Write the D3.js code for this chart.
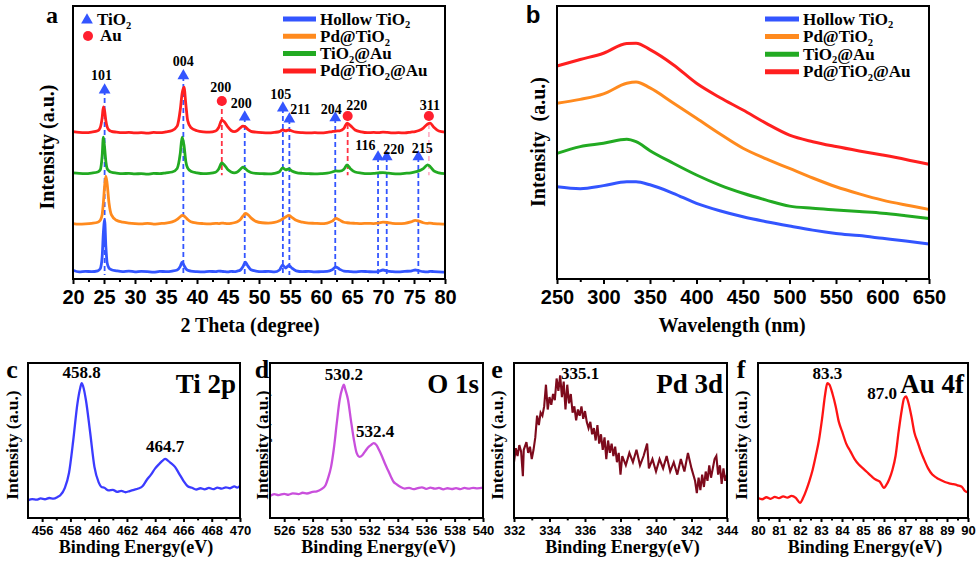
<!DOCTYPE html>
<html>
<head>
<meta charset="utf-8">
<script src="https://cdn.jsdelivr.net/npm/d3@7"></script>
<style>
body { margin: 0; background: #fff; }
svg text { font-family: "Liberation Serif", "Times New Roman", serif; font-weight: bold; fill: #000; }
.tick text { font-family: "Liberation Sans", Arial, sans-serif; font-weight: bold; }
</style>
</head>
<body>
<svg id="fig" width="980" height="564"></svg>
<script>
// ---- data ----
var sampleNames = ['Hollow TiO_2', 'Pd@TiO_2', 'TiO_2@Au', 'Pd@TiO_2@Au'];

// XRD (panel a)
var xrdTheta = [20,21,22,23,24,24.4,24.7,24.9,25.1,25.3,25.5,25.8,26.2,27,28,29,30,31,32,33,34,35,36,36.8,37.3,37.6,37.9,38.2,38.5,39,40,41,42,43,43.5,44,44.4,45,45.5,46,46.5,47,47.4,47.8,48.2,48.7,49.5,50.5,51.5,52.5,53.3,53.8,54.3,54.8,55.3,56,57,58,59,60,61,61.8,62.4,63,63.7,64.2,64.7,65.5,66.5,67.5,68.5,69.3,70,70.7,71.5,72.5,73.5,74.5,75.2,75.8,76.5,77.2,77.6,78.2,79,80];
var xrdHollow = [3.2,2.6,2.8,2.7,3.0,3.8,8,17,21.6,12,6,4,3.4,3.0,2.7,2.9,2.6,2.8,2.7,2.5,2.8,2.7,2.9,3.3,4.6,6.2,5.0,3.8,3.2,2.9,2.7,2.6,2.8,2.7,2.9,2.8,2.7,2.6,2.8,2.7,2.9,3.3,4.5,6.2,4.8,3.4,2.9,2.7,2.8,2.6,3.3,5.1,4.0,5.0,4.0,3.0,2.7,2.8,2.6,2.7,2.8,3.4,4.4,3.6,2.9,2.8,2.7,2.6,2.8,2.7,2.6,2.8,3.3,2.9,2.7,2.6,2.8,2.9,3.3,3.0,2.7,2.6,2.8,2.7,2.6,2.5];
var xrdPd = [20.3,20.1,20.2,20.4,20.8,21.5,23.5,28,34,37.7,35,28,23.5,21.5,20.8,20.5,20.3,20.2,20.4,20.1,20.3,20.5,20.9,21.8,22.8,23.3,23.1,22.5,21.8,21.0,20.5,20.3,20.2,20.4,20.3,20.5,20.4,20.3,20.4,20.6,21.0,21.8,23.0,24.0,23.6,22.4,21.1,20.6,20.5,20.7,21.3,22.0,22.7,23.3,22.6,21.5,20.8,20.5,20.4,20.3,20.5,21.2,22.2,21.6,20.8,20.6,20.5,20.4,20.3,20.4,20.3,20.5,20.8,20.7,20.4,20.3,20.4,20.9,21.5,21.2,20.6,20.4,20.5,20.3,20.2,20.1];
var xrdAu = [38.9,38.7,38.6,38.8,39.2,40,45,52,48,43,40.5,39.6,39.1,38.8,38.6,38.7,38.5,38.6,38.4,38.7,38.6,38.9,39.2,40.5,46,52,49,43,40.6,39.5,38.9,38.6,38.7,39.1,40.3,42.5,41.8,40.0,39.2,38.9,39.2,40.2,41,40.4,39.6,39.0,38.7,38.6,38.5,38.7,39.3,40.7,40,40.3,39.6,39.0,38.7,38.6,38.5,38.6,38.8,39.2,39.6,39.5,40.2,41.8,40.5,39.2,38.8,38.6,38.7,38.9,39.0,38.8,38.6,38.5,38.7,38.9,39.2,39.6,40.4,41.8,41.2,39.6,38.9,38.6];
var xrdPdAu = [54.0,53.7,53.6,53.8,54.3,55.5,59,63,61.5,58,55.8,54.6,54.1,53.8,53.6,53.7,53.5,53.6,53.4,53.7,53.6,53.9,54.4,56,62,68,70.3,64,58,55.5,54.3,53.9,53.8,54.2,55.5,58.2,57.6,55.6,54.4,54.0,54.4,55.4,56,55.7,54.8,54.1,53.8,53.6,53.5,53.7,54.0,54.6,54.3,54.6,54.2,53.8,53.6,53.5,53.6,53.5,53.7,54.0,54.2,54.3,55.2,57.1,56.3,54.6,53.9,53.6,53.7,53.6,53.8,53.7,53.5,53.6,53.5,53.8,54.0,54.4,55.3,56.8,57.1,55.6,54.2,53.8];
var xrdTicks = [20,25,30,35,40,45,50,55,60,65,70,75,80];

var peakPhase = ['TiO2','TiO2','Au','TiO2','TiO2','TiO2','TiO2','Au','Au','TiO2','TiO2','TiO2'];
var peakTheta = [25.1, 37.8, 44.0, 47.7, 53.85, 54.9, 62.3, 64.3, 77.4, 69.2, 70.6, 75.7];
var peakLevel = [69.2, 74.4, 65.2, 59.3, 62.6, 58.6, 59.0, 59.7, 59.7, 44.7, 44.7, 44.7];
var peakLabel = ['101','004','200','200','105','211','204','220','311','116','220','215'];

// UV-vis (panel b)
var uvWave = [250,275,300,325,335,350,375,400,425,450,475,500,525,550,575,600,625,650];
var uvHollow = [33.8,33.1,34.2,35.6,35.6,34.5,31.4,27.7,25,22.8,21,19.4,17.9,16.7,15.9,14.9,13.9,12.8];
var uvPd = [64.4,65.8,67.8,71.7,72.2,70,64.5,58.9,53.2,47.9,44,40.5,37,33.8,31.2,28.9,27.1,25.5];
var uvAu = [46,48.5,49.7,51.2,50.3,47,42.4,38.1,34.4,31.4,28.9,26.7,25.9,25.3,24.7,24.1,23.2,22.2];
var uvPdAu = [78,80.4,82.7,86.3,86.4,84,78.5,71.7,66.5,61.9,57,52.7,50.3,48.5,46.9,45.4,43.8,42.0];
var uvTicks = [250,300,350,400,450,500,550,600,650];

// XPS (panels c-f)
var tiEnergy = [455.0,455.3,455.6,455.9,456.2,456.5,456.8,457.1,457.3,457.6,457.9,458.2,458.5,458.7,458.8,458.9,459.1,459.4,459.7,460.0,460.2,460.4,460.7,461.0,461.3,461.6,461.9,462.2,462.5,462.8,463.1,463.4,463.7,464.0,464.3,464.5,464.7,464.9,465.1,465.4,465.7,466.0,466.3,466.6,466.9,467.2,467.5,467.8,468.1,468.4,468.7,469.0,469.3,469.6,469.8,470.0];
var tiCounts = [11.4,12.2,11.8,12.6,12.1,12.9,12.5,13.6,14.8,19.3,29,50,74,84,87,85,76,55,33,23,20,19.5,17.8,18.2,16.9,17.5,16.6,17.4,18.2,19.0,20.5,24.5,28,32,35,36.8,38.2,37,35.5,33,28.5,24,20.5,19.5,18.4,19.2,18.5,19.4,18.6,19.6,19.0,19.8,19.2,20.4,19.6,20.8];
var oEnergy = [525.0,525.3,525.6,526.0,526.3,526.6,527.0,527.3,527.6,528.0,528.3,528.6,528.9,529.1,529.3,529.5,529.7,529.9,530.1,530.2,530.3,530.5,530.7,530.9,531.1,531.3,531.5,531.7,531.9,532.1,532.3,532.5,532.7,532.9,533.1,533.3,533.5,533.7,533.9,534.2,534.5,534.8,535.1,535.4,535.7,536.0,536.3,536.6,536.9,537.2,537.5,537.8,538.1,538.4,538.7,539.0,539.3,539.6,540.0];
var oCounts = [14.2,15.4,14.8,15.6,15.0,15.9,15.4,16.3,15.8,16.8,17.2,18.5,21,26,33,45,61,76,84,86,83,76,63,51,42,39.5,40.5,43,45.5,47,48.3,47,43.5,39.5,35,31,27,23.4,21.8,20,19,19.4,18.6,19.3,19.8,18.8,19.6,18.9,19.4,18.5,19.2,18.7,19.3,18.6,19.4,18.9,19.5,19.1,19.6];
var pdEnergy = [332.0,332.1,332.2,332.3,332.4,332.5,332.55,332.7,332.8,332.9,333.0,333.1,333.2,333.3,333.4,333.5,333.6,333.7,333.8,333.9,334.0,334.1,334.2,334.3,334.4,334.5,334.6,334.7,334.8,334.9,335.0,335.1,335.2,335.3,335.4,335.5,335.6,335.7,335.8,335.9,336.0,336.1,336.2,336.3,336.4,336.5,336.6,336.7,336.8,336.9,337.0,337.1,337.2,337.3,337.4,337.5,337.6,337.7,337.8,337.9,338.0,338.1,338.3,338.5,338.7,338.9,339.1,339.3,339.5,339.6,339.8,340.0,340.2,340.4,340.6,340.8,341.0,341.2,341.4,341.6,341.8,342.0,342.2,342.3,342.4,342.5,342.6,342.7,342.8,342.9,343.0,343.1,343.3,343.4,343.5,343.6,343.7,343.8,343.9,344.0];
var pdCounts = [36,45,40,47,43,27,44,49,42,46,38,44,52,66,60,68,66,72,86,70,78,73,80,76,90,82,92,78,88,70,86,74,80,68,72,63,70,66,72,64,69,62,58,62,54,58,50,60,48,54,44,52,38,50,42,48,40,46,36,42,28,40,34,42,36,44,34,40,48,32,38,30,38,32,40,30,36,28,38,30,42,32,24,16,26,18,28,20,30,24,34,26,38,40,28,34,22,32,24,28];
var auEnergy = [80.0,80.2,80.4,80.6,80.8,81.0,81.2,81.4,81.6,81.8,82.0,82.15,82.3,82.45,82.6,82.75,82.9,83.05,83.2,83.3,83.4,83.55,83.7,83.85,84.0,84.2,84.4,84.6,84.8,85.0,85.2,85.4,85.6,85.8,86.0,86.1,86.25,86.4,86.55,86.7,86.85,86.95,87.05,87.15,87.3,87.45,87.6,87.75,87.9,88.1,88.3,88.5,88.7,88.9,89.1,89.3,89.5,89.7,89.85,90.0];
var auCounts = [12.9,12.1,13.4,12.4,13.6,12.8,14.0,13.1,14.3,13.0,9.8,13,18,24,31,40,50,64,80,87,86,80,72,62,56,48,43,38,34.5,32,29.5,27,24.8,23.5,19.4,21,25,31,40,56,70,77,78.5,75,66,55,49,43,38,32,28,26,24.5,23.2,22.4,21.8,21.1,20.2,17.5,16.5];

var xpsTitles = ['Ti 2p', 'O 1s', 'Pd 3d', 'Au 4f'];
var xpsPeakText = [['458.8', '464.7'], ['530.2', '532.4'], ['335.1'], ['83.3', '87.0']];
var xpsTicks = [[456,458,460,462,464,466,468,470], [526,528,530,532,534,536,538,540], [332,334,336,338,340,342,344], [80,81,82,83,84,85,86,87,88,89,90]];

// ---- drawing ----
var svg = d3.select('#fig');
var colors = ['#3355ff', '#ff8a1e', '#22aa22', '#ff1f1f'];

function rich(sel, str, fs) {
	var parts = str.split(/_(\d)/);
	var down = false;
	parts.forEach(function(p, i) {
		if (i % 2 === 1) {
			sel.append('tspan').attr('font-size', fs * 0.62).attr('dy', fs * 0.22).text(p);
			down = true;
		} else if (p) {
			var t = sel.append('tspan').text(p);
			if (down) { t.attr('dy', -fs * 0.22); down = false; }
		}
	});
}

function frame(l, r, t, b) {
	svg.append('rect').attr('x', l).attr('y', t).attr('width', r - l).attr('height', b - t)
		.attr('fill', 'none').attr('stroke', '#000').attr('stroke-width', 2);
}

function bottomAxis(x, y0, majors, minors, fs, size, pad) {
	var g = svg.append('g').attr('transform', 'translate(0,' + y0 + ')');
	g.call(d3.axisBottom(x).tickValues(minors).tickSize(size * 0.6).tickSizeOuter(0).tickFormat(''));
	g.select('.domain').remove();
	var g2 = svg.append('g').attr('transform', 'translate(0,' + y0 + ')').attr('font-size', fs);
	g2.call(d3.axisBottom(x).tickValues(majors).tickSize(size).tickSizeOuter(0).tickPadding(pad));
	g2.select('.domain').remove();
	svg.selectAll('.tick line').attr('stroke-width', 2);
	g2.selectAll('.tick text').attr('font-size', fs);
}

function yTitle(x, y, str, fs) {
	svg.append('text').attr('transform', 'translate(' + x + ',' + y + ') rotate(-90)')
		.attr('text-anchor', 'middle').attr('dominant-baseline', 'central')
		.attr('font-size', fs).text(str);
}

function legend(x0, y0, step, lenSw) {
	sampleNames.forEach(function(n, i) {
		var yy = y0 + i * step;
		svg.append('line').attr('x1', x0).attr('x2', x0 + lenSw).attr('y1', yy).attr('y2', yy)
			.attr('stroke', colors[i]).attr('stroke-width', 5);
		var t = svg.append('text').attr('x', x0 + lenSw + 4).attr('y', yy + 5.5).attr('font-size', 17);
		rich(t, n, 17);
	});
}

// panel a
var xA = d3.scaleLinear().domain([20, 80]).range([73, 445]);
var yA = d3.scaleLinear().domain([0, 100]).range([279, 6]);
var lineA = d3.line().x(function(d) { return xA(d[0]); }).y(function(d) { return yA(d[1]); }).curve(d3.curveMonotoneX);

var labelNudge = [[-3,-9],[0,-8.5],[-1,-8],[-3.5,-8.3],[-2,-8],[11,-3.7],[-4,-2.7],[9,-5],[1,-5],[-12.7,-6],[7,-2],[4,-2.7]];

peakTheta.forEach(function(t, i) {
	var isAu = peakPhase[i] === 'Au';
	svg.append('line').attr('x1', xA(t)).attr('x2', xA(t))
		.attr('y1', yA(peakLevel[i])).attr('y2', yA(isAu ? 38 : 1.5))
		.attr('stroke', isAu ? (t > 70 ? '#ffb3c8' : '#ff3344') : '#3355ff')
		.attr('stroke-width', 1.8).attr('stroke-dasharray', '5,3');
});

[xrdHollow, xrdPd, xrdAu, xrdPdAu].forEach(function(s, i) {
	svg.append('path').datum(xrdTheta.map(function(t, k) { return [t, s[k]]; }))
		.attr('d', lineA).attr('fill', 'none').attr('stroke', colors[i]).attr('stroke-width', 2.8);
});

peakTheta.forEach(function(t, i) {
	var isAu = peakPhase[i] === 'Au';
	var cx = xA(t), cy = yA(peakLevel[i]);
	svg.append('path').attr('transform', 'translate(' + cx + ',' + cy + ')')
		.attr('d', d3.symbol().type(isAu ? d3.symbolCircle : d3.symbolTriangle).size(isAu ? 80 : 60)())
		.attr('fill', isAu ? '#ff1f2f' : '#3355ff');
	svg.append('text').attr('x', cx + labelNudge[i][0]).attr('y', cy + labelNudge[i][1] - 1)
		.attr('text-anchor', 'middle').attr('font-size', 14).text(peakLabel[i]);
});

frame(73, 445, 6, 279);
bottomAxis(xA, 279, xrdTicks, xrdTicks.slice(1).map(function(v) { return v - 2.5; }), 20, 5, 6);
svg.append('text').attr('x', 250).attr('y', 332).attr('text-anchor', 'middle').attr('font-size', 20).text('2 Theta (degree)');
yTitle(47, 147, 'Intensity (a.u.)', 20);
svg.append('text').attr('x', 52).attr('y', 23).attr('text-anchor', 'middle').attr('font-size', 24).text('a');

// left legend of panel a
svg.append('path').attr('transform', 'translate(87,20)').attr('d', d3.symbol().type(d3.symbolTriangle).size(60)()).attr('fill', '#3355ff');
rich(svg.append('text').attr('x', 97).attr('y', 25).attr('font-size', 17), 'TiO_2', 17);
svg.append('circle').attr('cx', 88).attr('cy', 36).attr('r', 5).attr('fill', '#ff1f2f');
svg.append('text').attr('x', 100).attr('y', 41).attr('font-size', 17).text('Au');
legend(283, 19, 17.3, 33);

// panel b
var xB = d3.scaleLinear().domain([250, 650]).range([557, 929]);
var yB = d3.scaleLinear().domain([0, 100]).range([279, 6]);
var lineB = d3.line().x(function(d) { return xB(d[0]); }).y(function(d) { return yB(d[1]); }).curve(d3.curveMonotoneX);
[uvHollow, uvPd, uvAu, uvPdAu].forEach(function(s, i) {
	svg.append('path').datum(uvWave.map(function(w, k) { return [w, s[k]]; }))
		.attr('d', lineB).attr('fill', 'none').attr('stroke', colors[i]).attr('stroke-width', 3);
});
frame(557, 929, 6, 279);
bottomAxis(xB, 279, uvTicks, uvTicks.slice(1).map(function(v) { return v - 25; }), 20, 5, 6);
svg.append('text').attr('x', 732).attr('y', 332).attr('text-anchor', 'middle').attr('font-size', 20).text('Wavelength (nm)');
yTitle(538, 142, 'Intensity\u00a0\u00a0(a.u.)', 20);
svg.append('text').attr('x', 533).attr('y', 23).attr('text-anchor', 'middle').attr('font-size', 24)
	.style('font-family', 'Liberation Sans, Arial, sans-serif').text('b');
legend(765, 19, 17.6, 34);

// panels c-f
var xpsBox = [[28, 240], [270, 483], [514, 727], [758, 968]];
var xpsDomain = [[455, 470], [525, 540], [332, 344], [80, 90]];
var xpsColors = ['#3b3bff', '#c94fdc', '#7d0a1c', '#ff1414'];
var xpsData = [[tiEnergy, tiCounts], [oEnergy, oCounts], [pdEnergy, pdCounts], [auEnergy, auCounts]];
var xpsLetters = ['c', 'd', 'e', 'f'];
var letterX = [12, 262, 497, 741];
// label spots: [energy, intensity] of the annotated peaks
var peakSpots = [[[458.8, 87], [464.7, 38.2]], [[530.2, 86], [532.4, 48.3]], [[335.1, 92]], [[83.3, 87], [87.0, 78.5]]];
var peakTextNudge = [[[0, -5], [0, -7]], [[0, -5], [0, -6]], [[11, 4], []], [[0, -4], [-23, 3]]];

xpsBox.forEach(function(bx, i) {
	var x = d3.scaleLinear().domain(xpsDomain[i]).range(bx);
	var y = d3.scaleLinear().domain([0, 100]).range([518, 363]);
	var ln = d3.line().x(function(d) { return x(d[0]); }).y(function(d) { return y(d[1]); })
		.curve(i === 2 ? d3.curveLinear : d3.curveMonotoneX);
	svg.append('path').datum(xpsData[i][0].map(function(e, k) { return [e, xpsData[i][1][k]]; }))
		.attr('d', ln).attr('fill', 'none').attr('stroke', xpsColors[i]).attr('stroke-width', i === 2 ? 2.1 : 2.3);
	frame(bx[0], bx[1], 363, 518);
	var tk = xpsTicks[i];
	var minors = i === 3 ? tk.slice(1).map(function(v) { return v - 0.5; }) : tk.slice(1).map(function(v) { return v - 1; });
	bottomAxis(x, 518, tk, minors, 13, 4, 4);
	svg.append('text').attr('x', (bx[0] + bx[1]) / 2 + 2).attr('y', 553).attr('text-anchor', 'middle')
		.attr('font-size', 18).text('Binding Energy(eV)');
	yTitle(letterX[i], 445, 'Intensity (a.u.)', 17.5);
	svg.append('text').attr('x', letterX[i]).attr('y', 378).attr('text-anchor', 'middle').attr('font-size', 26).text(xpsLetters[i]);
	svg.append('text').attr('x', bx[1] - 4).attr('y', 393).attr('text-anchor', 'end').attr('font-size', 27).text(xpsTitles[i]);
	xpsPeakText[i].forEach(function(lbl, k) {
		var sp = peakSpots[i][k];
		var nd = peakTextNudge[i][k];
		svg.append('text').attr('x', x(sp[0]) + nd[0]).attr('y', y(sp[1]) + nd[1])
			.attr('text-anchor', 'middle').attr('font-size', 17).text(lbl);
	});
});
</script>
</body>
</html>
